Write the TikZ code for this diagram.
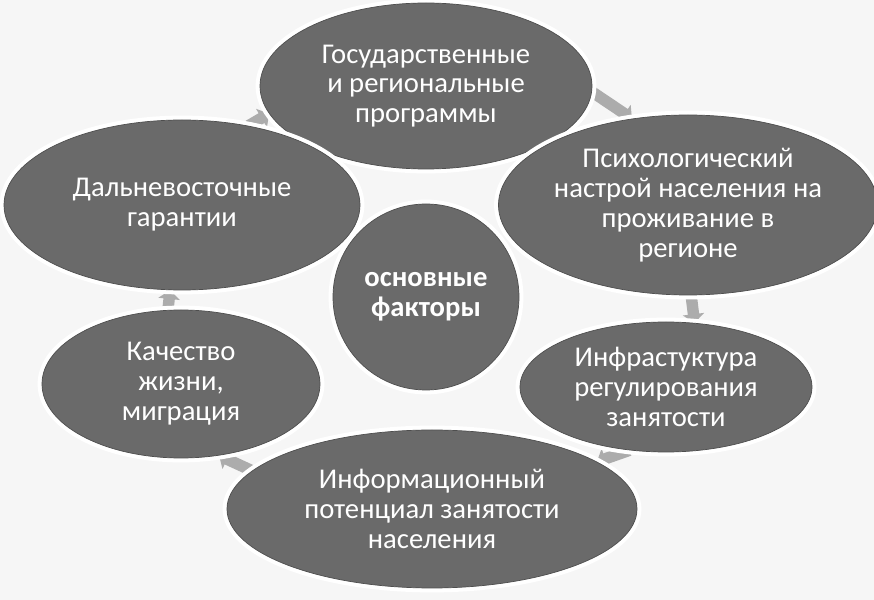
\documentclass[tikz,border=0pt]{standalone}
\usepackage{fontspec}
\setmainfont{Carlito}
\usetikzlibrary{arrows.meta,backgrounds,shapes.geometric}
\definecolor{factorgray}{RGB}{106,106,106}
\definecolor{edgegray}{RGB}{78,78,78}
\definecolor{arrowgray}{RGB}{172,172,172}
\definecolor{paper}{RGB}{246,246,246}

\begin{document}
\begin{tikzpicture}[
  factor/.style={ellipse, fill=factorgray, draw=edgegray, thin, preaction={draw=white, line width=5pt}, text=white, align=center, inner sep=0pt, font=\fontsize{16.3}{17}\selectfont},
  core/.style={factor, circle, minimum size=3.72cm, font=\fontsize{16.3}{17}\selectfont\bfseries},
  cyc/.style={-{Triangle[length=5pt, width=12pt]}, line width=6.5pt, draw=arrowgray}
]
\useasboundingbox (0,0) rectangle (17.48,12);
\begin{scope}[on background layer]
\fill[paper] (0,0) rectangle (17.48,12);
\end{scope}

\node[factor, minimum width=6.64cm, minimum height=3.32cm] (programs) at (8.52,10.28) {Государственные\\и региональные\\программы};
\node[factor, minimum width=7.12cm, minimum height=3.4cm] (guarantees) at (3.64,7.9) {Дальневосточные\\гарантии};
\node[factor, minimum width=7.44cm, minimum height=3.6cm] (mood) at (13.76,7.9) {Психологический\\настрой населения на\\проживание в\\регионе};
\node[core] (core) at (8.52,6.06) {основные\\факторы};
\node[factor, minimum width=5.56cm, minimum height=2.96cm] (quality) at (3.62,4.32) {Качество\\жизни,\\миграция};
\node[factor, minimum width=5.84cm, minimum height=2.6cm] (infra) at (13.32,4.26) {Инфрастуктура\\регулирования\\занятости};
\node[factor, minimum width=8.2cm, minimum height=3.16cm] (info) at (8.64,1.82) {Информационный\\потенциал занятости\\населения};

\begin{scope}[on background layer]
\draw[cyc] (guarantees.50) -- (programs.190);
\draw[cyc] (programs.358) -- (mood.123);
\draw[cyc] (mood.272) -- (infra.66);
\draw[cyc] (infra.240) -- (info.16);
\draw[cyc] (info.168) -- (quality.298);
\draw[cyc] (quality.100) -- (guarantees.262);
\end{scope}
\end{tikzpicture}
\end{document}
